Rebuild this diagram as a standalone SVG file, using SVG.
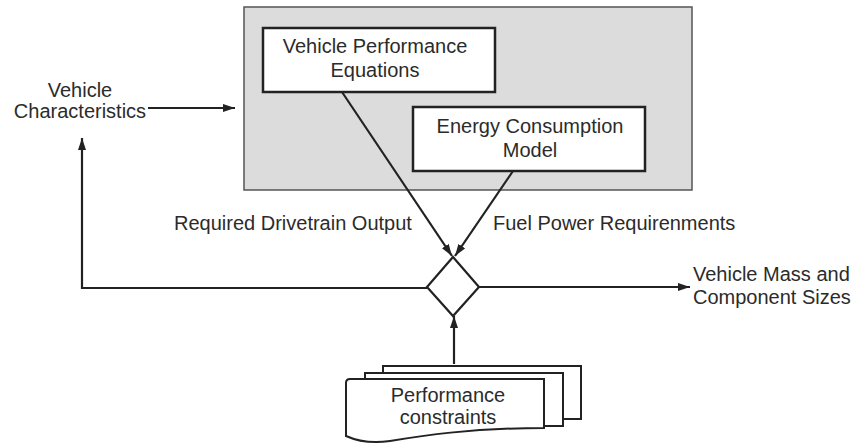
<svg xmlns="http://www.w3.org/2000/svg" width="855" height="444" viewBox="0 0 855 444">
<style>
text{font-family:"Liberation Sans",Arial,sans-serif;font-size:20px;fill:#2b2b2b}
.c{text-anchor:middle}
.ln{stroke:#222;stroke-width:2.2;fill:none}
.bx{fill:#fff;stroke:#222;stroke-width:2.5}
.sh{fill:#fff;stroke:#222;stroke-width:2}
</style>
<defs>
<marker id="ah" viewBox="0 0 12 8" refX="12" refY="4" markerWidth="12" markerHeight="8" markerUnits="userSpaceOnUse" orient="auto">
<path d="M0,0 L12,4 L0,8 z" fill="#222"/>
</marker>
</defs>
<g id="subsystem">
<rect x="244" y="7" width="448" height="183" fill="#dcdcdc" stroke="#555" stroke-width="1.5"/>
</g>
<g id="vpe">
<rect class="bx" x="263" y="28" width="232" height="64"/>
<text class="c" x="375" y="53">Vehicle Performance</text>
<text class="c" x="375" y="77">Equations</text>
</g>
<g id="ecm">
<rect class="bx" x="413" y="107" width="232" height="64"/>
<text class="c" x="530" y="133">Energy Consumption</text>
<text class="c" x="530" y="157">Model</text>
</g>
<g id="decision">
<path class="ln" d="M453,257 L479,287 L453,316 L427,287 Z" fill="#fff"/>
</g>
<g id="constraints">
<rect class="sh" x="383" y="366" width="198" height="53"/>
<rect class="sh" x="365" y="373" width="198" height="53"/>
<path class="sh" d="M346,383 Q346,379 350,379 H544 V428 C470,428 420,436 390,441 C370,444 355,440 346,436 Z"/>
<text class="c" x="448" y="402">Performance</text>
<text class="c" x="448" y="424">constraints</text>
</g>
<g id="labels">
<text class="c" x="80" y="97">Vehicle</text>
<text class="c" x="80" y="118">Characteristics</text>
<text x="174" y="230">Required Drivetrain Output</text>
<text x="493" y="230">Fuel Power Requirenments</text>
<text x="693" y="281">Vehicle Mass and</text>
<text x="693" y="304">Component Sizes</text>
</g>
<g id="connectors">
<line class="ln" x1="148" y1="108" x2="235" y2="108" marker-end="url(#ah)"/>
<line class="ln" x1="342" y1="92" x2="452" y2="256" marker-end="url(#ah)"/>
<line class="ln" x1="513" y1="171" x2="455" y2="256" marker-end="url(#ah)"/>
<polyline class="ln" points="427,288 82,288 82,138" marker-end="url(#ah)"/>
<line class="ln" x1="479" y1="287" x2="690" y2="287" marker-end="url(#ah)"/>
<line class="ln" x1="454" y1="364" x2="454" y2="316" marker-end="url(#ah)"/>
</g>
</svg>
